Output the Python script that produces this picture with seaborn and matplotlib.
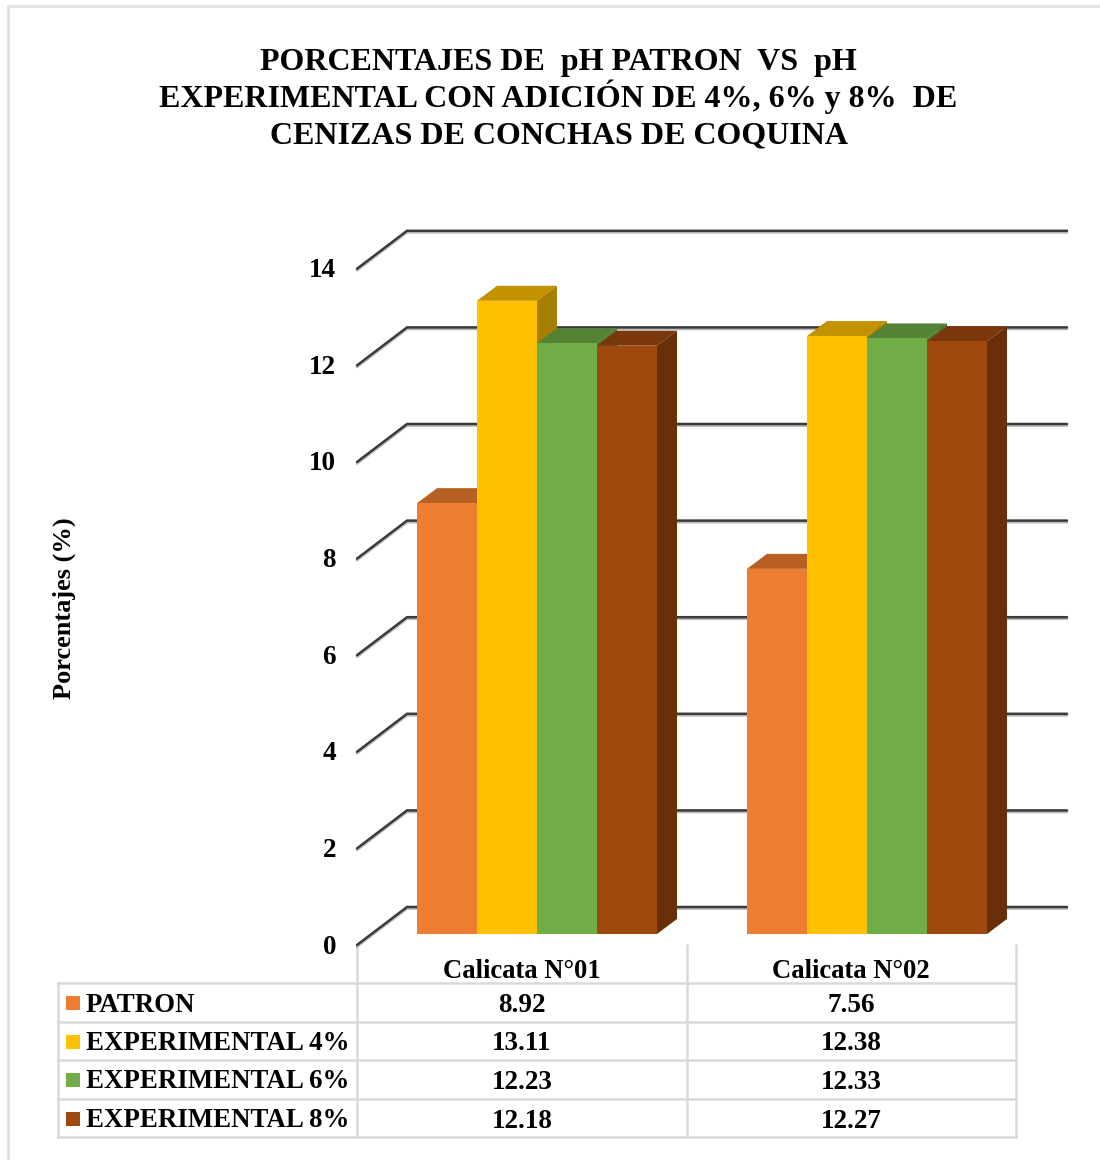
import matplotlib
matplotlib.use("Agg")
import matplotlib.pyplot as plt
import matplotlib.patheffects as pe
from matplotlib.patches import Polygon, Rectangle
import pandas as pd
import seaborn as sns

TITLE_LINES = [
    "PORCENTAJES DE  pH PATRON  VS  pH",
    "EXPERIMENTAL CON ADICIÓN DE 4%, 6% y 8%  DE",
    "CENIZAS DE CONCHAS DE COQUINA",
]
Y_LABEL = "Porcentajes (%)"
CATEGORIES = ["Calicata N°01", "Calicata N°02"]
SERIES = ["PATRON", "EXPERIMENTAL 4%", "EXPERIMENTAL 6%", "EXPERIMENTAL 8%"]
PATRON = [8.92, 7.56]
EXP_4 = [13.11, 12.38]
EXP_6 = [12.23, 12.33]
EXP_8 = [12.18, 12.27]
Y_TICKS = [0, 2, 4, 6, 8, 10, 12, 14]

FRONT = ["#ED7D31", "#FFC000", "#70AD47", "#9E480E"]
TOP = ["#B85F23", "#C29200", "#558235", "#7A370B"]
SIDE = ["#9E5320", "#A67F00", "#4B7530", "#692F08"]

W, H = 1100, 1160
PX_PER_UNIT = 48.3
PX_PER_CAT = 330.0
DEPTH_X, DEPTH_Y = 20.0, 15.0

sns.set_theme(style="white")
plt.rcParams["font.family"] = ["Liberation Serif", "DejaVu Serif"]
plt.rcParams["font.weight"] = "bold"

fig = plt.figure(figsize=(W / 100, H / 100), dpi=100, facecolor="white")

# Overlay in pixel coordinates for the frame, title and data table.
page = fig.add_axes([0, 0, 1, 1], zorder=0)
page.set_xlim(0, W)
page.set_ylim(H, 0)
page.axis("off")

# Plot axes: bar baseline at y=934 px, first category centred at x=537 px.
left, right, top, bottom = 340, 1080, 220, 960
ax = fig.add_axes([left / W, 1 - bottom / H, (right - left) / W, (bottom - top) / H], zorder=1)
ax.patch.set_alpha(0)
ax.set_axis_off()


def x_units(dx):
    return dx / PX_PER_CAT


def y_units(dy):
    return dy / PX_PER_UNIT


frame = pd.DataFrame(
    {
        "categoria": CATEGORIES * 4,
        "serie": [s for s in SERIES for _ in CATEGORIES],
        "valor": PATRON + EXP_4 + EXP_6 + EXP_8,
    }
)
sns.barplot(
    data=frame, x="categoria", y="valor", hue="serie", hue_order=SERIES,
    palette=FRONT, width=240 / PX_PER_CAT, gap=0, saturation=1, legend=False, ax=ax,
)
ax.set_xlim((left - 537) / PX_PER_CAT, (right - 537) / PX_PER_CAT)
ax.set_ylim((934 - bottom) / PX_PER_UNIT, (934 - top) / PX_PER_UNIT)
ax.set_axis_off()

# Receding gridlines: a slanted stub on the wall's side, then the back-wall line.
wall_x0 = (407 - 537) / PX_PER_CAT
wall_x1 = (1067 - 537) / PX_PER_CAT
stub_x0 = (357 - 537) / PX_PER_CAT
back_lift = y_units(934 - 907)
front_drop = y_units(945 - 934)
shadow = [pe.SimpleLineShadow(offset=(0, -1.2), shadow_color="#aaaaaa", alpha=0.8), pe.Normal()]
for v in Y_TICKS:
    ax.plot(
        [stub_x0, wall_x0, wall_x1],
        [v - front_drop, v + back_lift, v + back_lift],
        color="#3a3a3a", lw=1.8, zorder=1, solid_joinstyle="miter", path_effects=shadow,
    )
    ax.text(stub_x0 - x_units(21), v - front_drop - y_units(2), str(v), ha="right", va="center",
            fontsize=19.5, color="black")

# Extrude every seaborn bar into a top face and a right-hand side face.
dx, dy = x_units(DEPTH_X), y_units(DEPTH_Y)
bars = [p for p in ax.patches if p.get_height() > 0]
for i, bar in enumerate(bars):
    colour_index = i // 2
    x0, x1 = bar.get_x(), bar.get_x() + bar.get_width()
    h = bar.get_height()
    z = 2 + i % 2 * 10 + colour_index * 2
    ax.add_patch(Polygon([(x0, h), (x0 + dx, h + dy), (x1 + dx, h + dy), (x1, h)],
                         closed=True, fc=TOP[colour_index], ec="none", zorder=z))
    ax.add_patch(Polygon([(x1, 0), (x1 + dx, dy), (x1 + dx, h + dy), (x1, h)],
                         closed=True, fc=SIDE[colour_index], ec="none", zorder=z))
    bar.set_zorder(z + 1)
    bar.set_edgecolor("none")

# Outer frame of the chart area.
page.plot([1100, 8, 8], [6, 6, 1160], color="#e2e2e2", lw=2)

for line, y in zip(TITLE_LINES, [70, 107, 143.5]):
    page.text(558.5, y, line, ha="center", va="baseline", fontsize=23, color="black")
page.text(64, 608, Y_LABEL, rotation=90, ha="center", va="center", fontsize=19, color="black")

# Data table below the plot.
grid = "#d9d9d9"
row_edges = [983, 1022, 1060, 1099, 1137]
col_edges = [58, 357, 687, 1016]
for y in row_edges:
    page.plot([col_edges[0], col_edges[-1]], [y, y], color=grid, lw=1.8, solid_capstyle="projecting")
page.plot([col_edges[0]] * 2, [row_edges[0], row_edges[-1]], color=grid, lw=1.8)
for x in col_edges[1:]:
    page.plot([x, x], [945, row_edges[-1]], color=grid, lw=1.8)

col_centres = [522, 851]
for x, name in zip(col_centres, CATEGORIES):
    page.text(x, 978, name, ha="center", va="baseline", fontsize=19.2, color="black")

table_values = [PATRON, EXP_4, EXP_6, EXP_8]
for r, (name, values) in enumerate(zip(SERIES, table_values)):
    yc = (row_edges[r] + row_edges[r + 1]) / 2 + 0.5
    page.add_patch(Rectangle((66, yc - 7), 14, 14, fc=FRONT[r], ec="none"))
    page.text(86, yc + 8.5, name, ha="left", va="baseline", fontsize=19.35, color="black")
    for x, v in zip(col_centres, values):
        page.text(x, yc + 9, f"{v:.2f}", ha="center", va="baseline", fontsize=19.5, color="black")

fig.savefig("out.png", dpi=100, facecolor="white")
